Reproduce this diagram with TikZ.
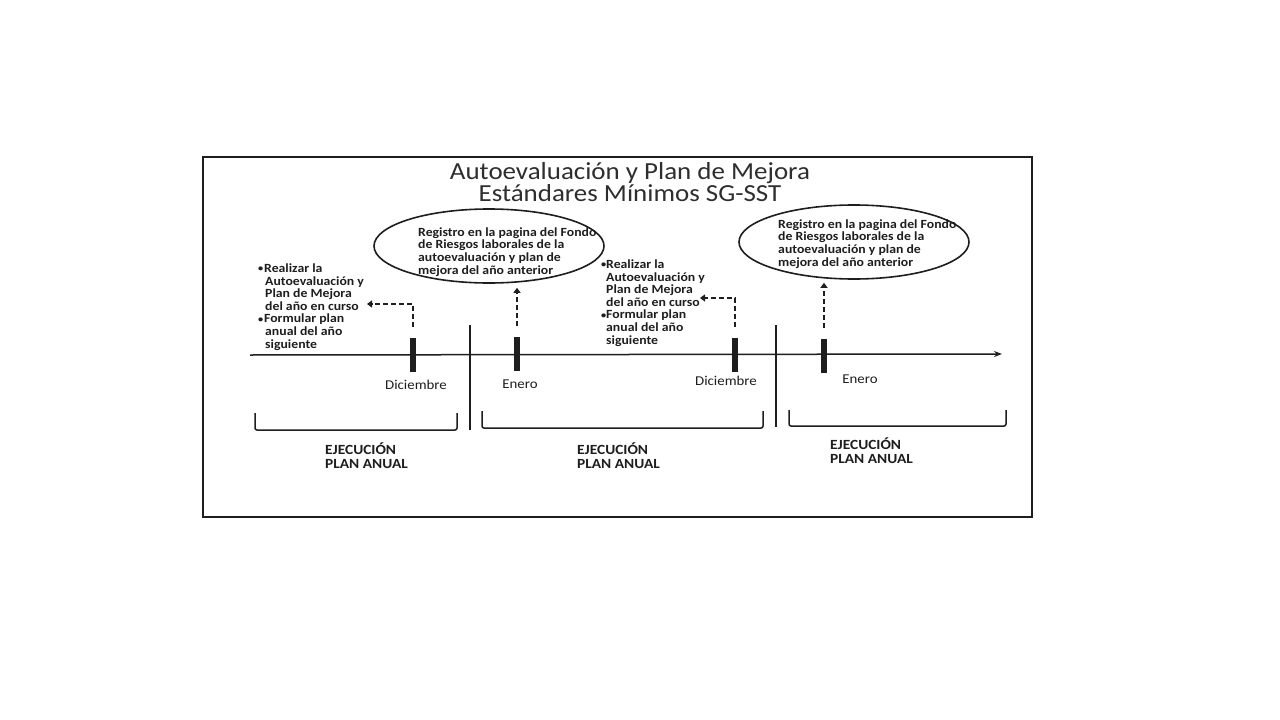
\documentclass[tikz,border=0pt]{standalone}
\usepackage{fontspec}
\setmainfont{Carlito}[FakeStretch=1.1]
\usetikzlibrary{arrows.meta,shapes.geometric}
\definecolor{ink}{HTML}{1E1E1E}
\definecolor{titleink}{HTML}{2E2E2E}
\tikzset{
  txt/.style={font=\bfseries\fontsize{12.5}{12.6}\selectfont, inner sep=0pt, align=left, text=ink},
  month/.style={font=\fontsize{13.5}{14}\selectfont, inner sep=0pt, text=ink},
  execlabel/.style={font=\bfseries\fontsize{14}{14}\selectfont, inner sep=0pt, align=left, text=ink},
  titletxt/.style={font=\fontsize{24.5}{22}\selectfont, inner sep=0pt, text=titleink},
  tickbar/.style={fill=ink, draw=none, minimum width=6pt, minimum height=34pt, inner sep=0pt},
  bubble/.style={ellipse, draw=ink, line width=1.6pt, minimum width=230pt, minimum height=74pt, inner sep=0pt},
  dasharrow/.style={draw=ink, line width=2.2pt, dash pattern=on 5pt off 3pt, -{Triangle[length=5pt,width=7pt]}},
  sepline/.style={draw=ink, line width=1.2pt},
  bracket/.style={draw=ink, line width=1.5pt, rounded corners=2pt},
  axisline/.style={draw=ink, line width=1.5pt, -{Stealth[length=8pt,width=6pt]}},
}
\newcommand{\blt}[1]{\makebox[#1][l]{\raisebox{0.5pt}{\scalebox{0.75}{•}}}}
\begin{document}
\begin{tikzpicture}[x=1pt,y=-1pt]
\useasboundingbox (0,0) rectangle (1280,720);
\fill[white] (0,0) rectangle (1280,720);
% frame
\draw[draw=ink, line width=1.5pt] (203,157) rectangle (1032,517);
% title
\node[titletxt, anchor=base] (title1) at (630,179) {Autoevaluación y Plan de Mejora};
\node[titletxt, anchor=base] (title2) at (630,201) {Estándares Mínimos SG-SST};
% ellipses
\node[bubble] (e1) at (489,246) {};
\node[bubble] (e2) at (854,242) {};
\node[txt, anchor=base west] (e1t) at (418,274) {Registro en la pagina del Fondo\\de Riesgos laborales de la\\autoevaluación y plan de\\mejora del año anterior};
\node[txt, anchor=base west] (e2t) at (778,266) {Registro en la pagina del Fondo\\de Riesgos laborales de la\\autoevaluación y plan de\\mejora del año anterior};
% side texts
\node[txt, anchor=base west] (lt) at (258,348) {\blt{6pt}Realizar la\\\hspace*{7pt}Autoevaluación y\\\hspace*{7pt}Plan de Mejora\\\hspace*{7pt}del año en curso\\\blt{6pt}Formular plan\\\hspace*{7pt}anual del año\\\hspace*{7pt}siguiente};
\node[txt, anchor=base west] (mt) at (601,344) {\blt{5pt}Realizar la\\\hspace*{5pt}Autoevaluación y\\\hspace*{5pt}Plan de Mejora\\\hspace*{5pt}del año en curso\\\blt{5pt}Formular plan\\\hspace*{5pt}anual del año\\\hspace*{5pt}siguiente};
% axis
\coordinate (ax0) at (250,355);
\coordinate (ax1) at (1002,354);
\draw[axisline] (ax0) -- (ax1);
% separators
\coordinate (s1a) at (470,325); \coordinate (s1b) at (470,430);
\coordinate (s2a) at (776,325); \coordinate (s2b) at (776,427);
\draw[sepline] (s1a) -- (s1b);
\draw[sepline] (s2a) -- (s2b);
% ticks
\node[tickbar] (t1) at (413,355) {};
\node[tickbar] (t2) at (517,354) {};
\node[tickbar] (t3) at (735,355) {};
\node[tickbar] (t4) at (824,356) {};
% months
\node[month] (m1) at (416,385) {Diciembre};
\node[month] (m2) at (520,384) {Enero};
\node[month] (m3) at (726,381) {Diciembre};
\node[month] (m4) at (860,379) {Enero};
% dashed arrows
\coordinate (a1e) at (367,304);
\coordinate (a3e) at (700,298);
\draw[dasharrow] ([yshift=11pt]t1.north) -- (t1.north |- a1e) -- (a1e);
\draw[dasharrow, shorten >=4pt] ([yshift=11pt]t2.north) -- (t2.north |- e1.south);
\draw[dasharrow] ([yshift=11pt]t3.north) -- (t3.north |- a3e) -- (a3e);
\draw[dasharrow, shorten >=3pt] ([yshift=11pt]t4.north) -- (t4.north |- e2.south);
% brackets
\draw[bracket] (255,413) -- (255,430) -- (457,430) -- (457,413);
\draw[bracket] (482,411) -- (482,428) -- (763,428) -- (763,411);
\draw[bracket] (789,410) -- (789,426) -- (1006,426) -- (1006,410);
% execution labels
\node[execlabel, anchor=base west] (x1) at (325,468) {EJECUCIÓN\\PLAN ANUAL};
\node[execlabel, anchor=base west] (x2) at (577,468) {EJECUCIÓN\\PLAN ANUAL};
\node[execlabel, anchor=base west] (x3) at (830,463) {EJECUCIÓN\\PLAN ANUAL};
\end{tikzpicture}
\end{document}
